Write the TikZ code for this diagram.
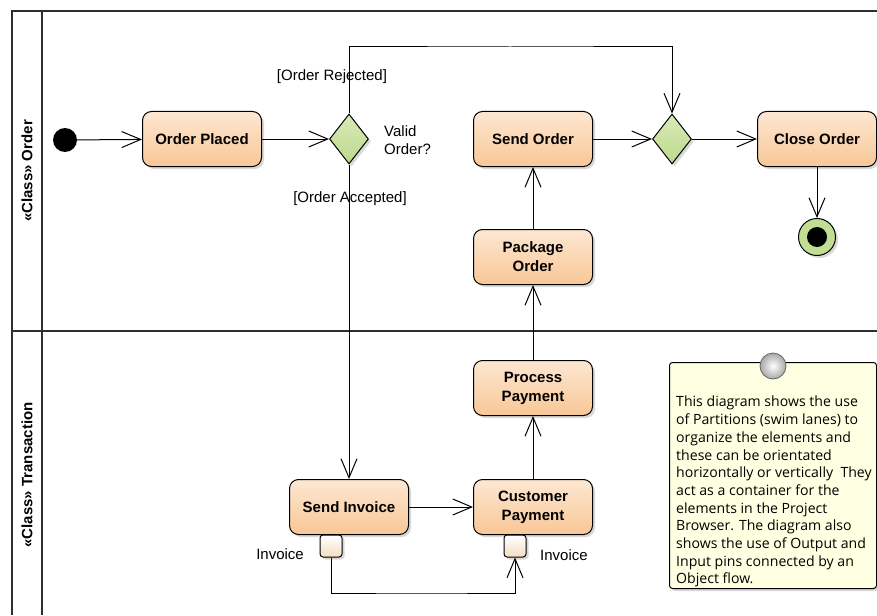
\documentclass[tikz,border=0pt]{standalone}
\usepackage{fontspec}
\setmainfont{Liberation Sans}
\newfontfamily\notefont{Open Sans}
\usetikzlibrary{arrows.meta,shapes.geometric,shadows,calc}

\definecolor{actTop}{HTML}{FDE7D2}
\definecolor{actBot}{HTML}{F8C796}
\definecolor{decTop}{HTML}{D9EAB9}
\definecolor{decBot}{HTML}{BCD98B}
\definecolor{finalFill}{HTML}{C2DE92}
\definecolor{pinBot}{HTML}{F3DEC2}
\definecolor{noteFill}{HTML}{FFFFE1}
\definecolor{frameCol}{HTML}{2E2E2E}
\definecolor{ballEdge}{HTML}{A8A8A8}

\tikzset{
  shade/.style={drop shadow={shadow xshift=2.5pt, shadow yshift=-2.5pt, fill=black!25, opacity=0.6}},
  activity/.style={rectangle, rounded corners=9pt, draw=black, line width=1pt,
    top color=actTop, bottom color=actBot, minimum width=119pt, minimum height=55pt,
    inner sep=2pt, align=center, font=\bfseries\fontsize{15}{19}\selectfont, shade},
  decision/.style={diamond, draw=black, line width=1pt, top color=decTop, bottom color=decBot,
    minimum width=39pt, minimum height=50pt, inner sep=0pt, shade},
  pin/.style={rectangle, rounded corners=3pt, draw=black, line width=1pt,
    top color=white, bottom color=pinBot, minimum size=22pt, inner sep=0pt, shade},
  flow/.style={draw=black, line width=1pt, -{Straight Barb[length=19pt,width=16pt,line width=1pt]}},
  lane/.style={draw=frameCol, line width=1.6pt},
  lanetitle/.style={rotate=90, font=\bfseries\fontsize{15}{18}\selectfont},
  guard/.style={font=\fontsize{15}{18}\selectfont, inner sep=0pt},
}

\begin{document}
\begin{tikzpicture}[x=1pt, y=-1pt]
\useasboundingbox (0,0) rectangle (877,615);

% swim lane partitions
\draw[lane] (12,615) -- (12,11) -- (877,11);
\draw[lane] (42,11) -- (42,615);
\draw[lane] (12,331) -- (877,331);
\node[lanetitle] (laneOrder) at (27,171) {«Class» Order};
\node[lanetitle] (laneTrans) at (27,475) {«Class» Transaction};

% control nodes
\node[circle, fill=black, minimum size=24pt, inner sep=0pt] (init) at (65,140) {};
\node[decision] (dec1) at (349,139) {};
\node[decision] (dec2) at (672,139) {};
\node[circle, draw=black, line width=1pt, fill=finalFill, minimum size=37pt, inner sep=0pt, shade] (final) at (817,237) {};
\node[circle, fill=black, minimum size=20pt, inner sep=0pt] (finalDot) at (final) {};

% actions
\node[activity] (placed) at (202,139) {Order Placed};
\node[activity] (sorder) at (533,139) {Send Order};
\node[activity] (close) at (817,139) {Close Order};
\node[activity] (pkg) at (533,257) {Package\\Order};
\node[activity] (ppay) at (533,388) {Process\\Payment};
\node[activity] (sinv) at (349,507) {Send Invoice};
\node[activity] (cpay) at (533,507) {Customer\\Payment};

% pins
\node[pin] (pinOut) at (331,546) {};
\node[pin] (pinIn) at (515,546) {};
\node[guard, anchor=east] (pinOutLbl) at (304,554) {Invoice};
\node[guard, anchor=west] (pinInLbl) at (540,555) {Invoice};

% labels
\node[guard, anchor=west, align=left] (validLbl) at (384,140) {Valid\\Order?};
\node[guard] (rejLbl) at (332,77) {[Order Rejected]};
\node[guard] (accLbl) at (350,199) {[Order Accepted]};

% control flows
\coordinate (rejBend) at (510,47);
\coordinate (objBend) at (420,593);
\draw[flow] (init) -- (placed);
\draw[flow] (placed) -- (dec1);
\draw[flow] (dec1.north) |- (rejBend) -| (dec2.north);
\draw[flow] (dec1.south) -- (sinv.north);
\draw[flow] (sinv) -- (cpay);
\draw[flow] (cpay) -- (ppay);
\draw[flow] (ppay) -- (pkg);
\draw[flow] (pkg) -- (sorder);
\draw[flow] (sorder) -- (dec2);
\draw[flow] (dec2) -- (close);
\draw[flow] (close) -- (final);
\draw[flow] (pinOut.south) |- (objBend) -| (pinIn.south);

% note
\node[rectangle, rounded corners=3pt, draw=black, line width=1pt, fill=noteFill,
      minimum width=207pt, minimum height=226pt, anchor=north west, inner sep=0pt, shade]
      (note) at (669,362) {};
\node[circle, draw=black!60, line width=0.8pt, inner color=white, outer color=ballEdge,
      minimum size=26pt, inner sep=0pt] (pinhead) at (773,366) {};
\node[anchor=north west, align=left, inner sep=0pt,
      font=\notefont\fontsize{14.1}{17.7}\selectfont] (noteText) at (676,396)
  {This diagram shows the use\\
   of Partitions (swim lanes) to\\
   organize the elements and\\
   these can be orientated\\
   horizontally or vertically\ \ They\\
   act as a container for the\\
   elements in the Project\\
   Browser. The diagram also\\
   shows the use of Output and\\
   Input pins connected by an\\
   Object flow.};
\end{tikzpicture}
\end{document}
